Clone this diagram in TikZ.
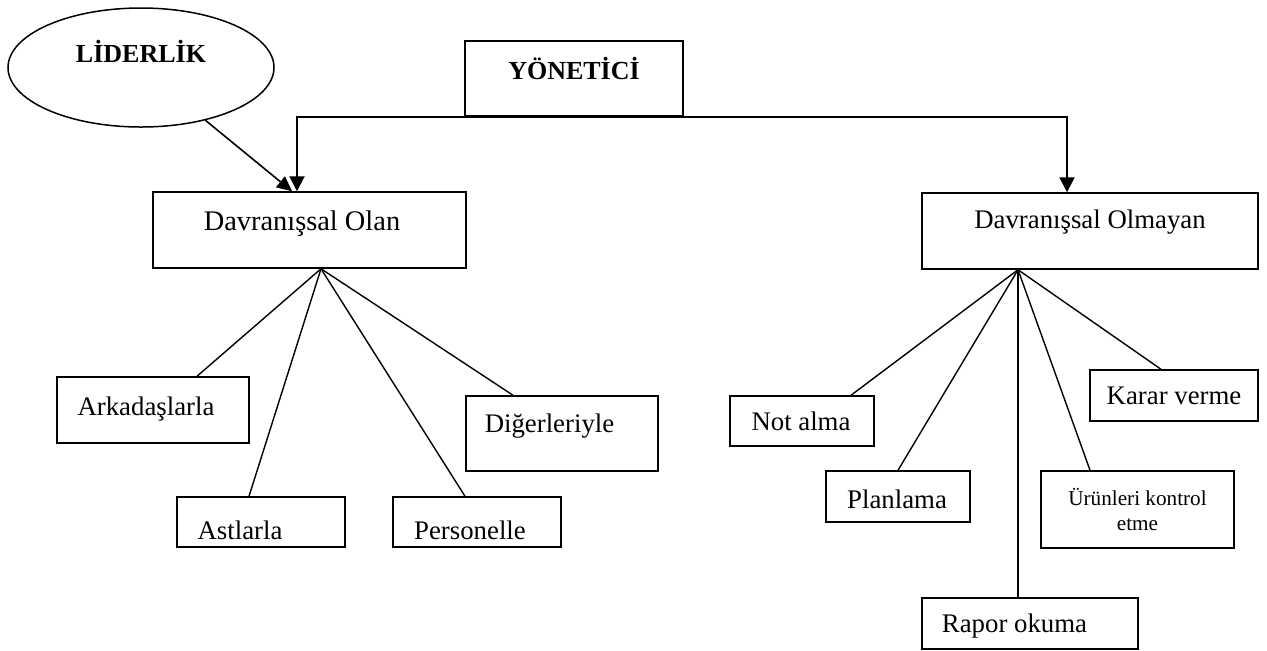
\documentclass[tikz,border=0pt]{standalone}
\usepackage{fontspec}
\setmainfont{Liberation Serif}
\usetikzlibrary{shapes.geometric,arrows.meta}
\newcommand{\mvtxt}[3]{\raisebox{#2}[\height][\depth]{\kern#1\relax#3\kern-#1\relax}}
\begin{document}
\begin{tikzpicture}[x=0.5pt,y=-0.5pt,
  box/.style={draw, line width=0.75pt, rectangle, inner sep=0pt,
    font=\fontsize{13.4}{16}\selectfont},
  boldbox/.style={box, font=\fontsize{13}{16}\selectfont\bfseries},
  oval/.style={draw, line width=0.75pt, ellipse, inner sep=0pt,
    font=\fontsize{13}{16}\selectfont\bfseries},
  link/.style={line width=0.7pt},
  mainarr/.style={line width=1pt, -{Triangle[length=7.5pt,width=7.5pt]}},
  leadarr/.style={line width=0.8pt, -{Triangle[length=7.5pt,width=7pt]}}]
\useasboundingbox (0,0) rectangle (1267,650);

% top level
\node[oval, minimum width=133pt, minimum height=59.5pt] (lid) at (141,67.5)
  {\mvtxt{0pt}{8.3pt}{LİDERLİK}};
\node[boldbox, minimum width=109pt, minimum height=37.5pt] (yon) at (574,78.5)
  {\mvtxt{0pt}{4.8pt}{YÖNETİCİ}};

% second level
\node[box, minimum width=156.5pt, minimum height=38pt,
  font=\fontsize{14.2}{16}\selectfont] (olan) at (309.5,230)
  {\mvtxt{-3.75pt}{3.2pt}{Davranışsal Olan}};
\node[box, minimum width=168pt, minimum height=38pt] (olmayan) at (1090,231)
  {\mvtxt{0pt}{4.5pt}{Davranışsal Olmayan}};

% left children
\node[box, minimum width=96pt, minimum height=33pt] (ark) at (153,410)
  {\mvtxt{-3.5pt}{0.5pt}{Arkadaşlarla}};
\node[box, minimum width=84pt, minimum height=25pt] (ast) at (261,522)
  {\mvtxt{-10.5pt}{-4pt}{Astlarla}};
\node[box, minimum width=84pt, minimum height=25pt] (per) at (477,522)
  {\mvtxt{-3.5pt}{-4pt}{Personelle}};
\node[box, minimum width=96pt, minimum height=37.5pt] (dig) at (562,433.5)
  {\mvtxt{-6.25pt}{3.5pt}{Diğerleriyle}};

% right children
\node[box, minimum width=72pt, minimum height=25pt] (not) at (802,421)
  {\mvtxt{-0.5pt}{0pt}{Not alma}};
\node[box, minimum width=72pt, minimum height=25.5pt] (plan) at (898,496.5)
  {\mvtxt{-0.5pt}{-1.4pt}{Planlama}};
\node[box, minimum width=108pt, minimum height=25.5pt] (rapor) at (1030,623.5)
  {\mvtxt{-7.75pt}{-1.4pt}{Rapor okuma}};
\node[box, minimum width=96.5pt, minimum height=38.5pt, align=center,
  font=\fontsize{10.6}{12.5}\selectfont] (urun) at (1137.5,509.5)
  {Ürünleri kontrol\\etme};
\node[box, minimum width=84pt, minimum height=25.5pt] (karar) at (1174,395.5)
  {Karar verme};

% arrow targets and fan origins
\coordinate (a1) at ([xshift=-6.25pt]olan.north);
\coordinate (a2) at ([xshift=-11.5pt]olmayan.north);
\coordinate (f1) at ([xshift=5.75pt]olan.south);
\coordinate (f2) at ([xshift=-36pt]olmayan.south);

% arrows from YÖNETİCİ and LİDERLİK
\draw[mainarr] (yon.south) -| (a1);
\draw[mainarr] (yon.south) -| (a2);
\draw[leadarr] (lid) -- ([xshift=-2.5pt]a1);

% fans
\draw[link] (f1) -- ([xshift=22pt]ark.north);
\draw[link] (f1) -- ([xshift=-6pt]ast.north);
\draw[link] (f1) -- ([xshift=-6pt]per.north);
\draw[link] (f1) -- ([xshift=-24.5pt]dig.north);

\draw[link] (f2) -- ([xshift=24.5pt]not.north);
\draw[link] (f2) -- (plan.north);
\draw[link] (f2) -- ([xshift=-6pt]rapor.north);
\draw[link] (f2) -- ([xshift=-23.75pt]urun.north);
\draw[link] (f2) -- ([xshift=-6.5pt]karar.north);
\end{tikzpicture}
\end{document}
